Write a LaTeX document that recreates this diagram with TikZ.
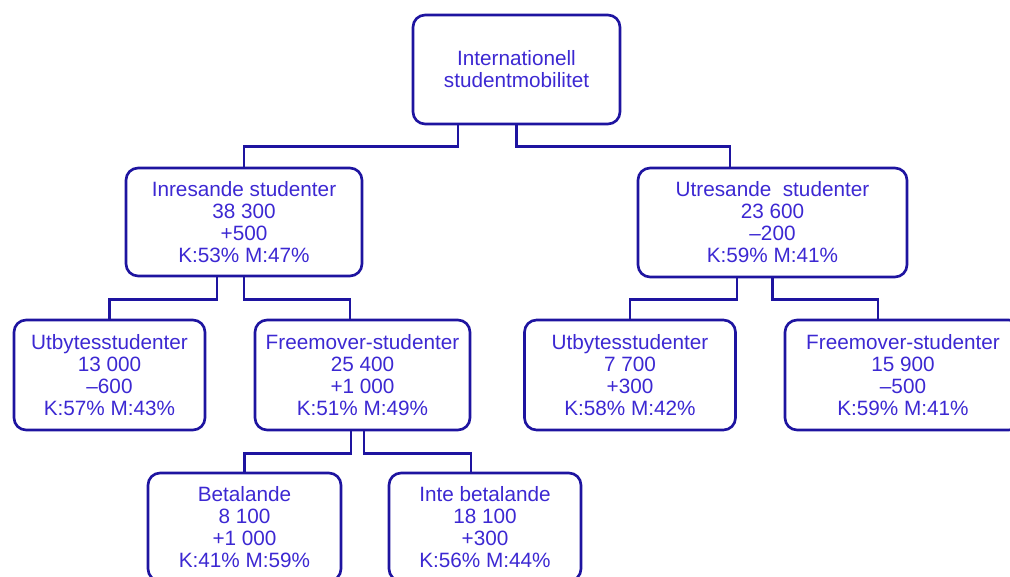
\documentclass[tikz,border=0pt]{standalone}
\usepackage{fontspec}
\setmainfont{Liberation Sans}
\usetikzlibrary{positioning,calc}
\definecolor{lineblue}{RGB}{30,20,160}
\definecolor{txtblue}{RGB}{60,40,210}
\tikzset{
  box/.style={draw=lineblue,line width=1.5pt,rounded corners=0.24cm,text=txtblue,
    align=center,inner sep=0pt,font=\fontsize{11.8}{12.5}\selectfont},
  link/.style={draw=lineblue,line width=1.5pt}
}
\begin{document}
\begin{tikzpicture}[x=0.02cm,y=-0.02cm]
\useasboundingbox (0,0) rectangle (1010,577);
\clip (0,0) rectangle (1010,577);

\node[box,minimum width=4.14cm,minimum height=2.18cm] (top) at (516.5,69.5) {Internationell\\studentmobilitet};
\node[box,minimum width=4.72cm,minimum height=2.16cm] (inr) at (244,222) {Inresande studenter\\38 300\\+500\\K:53\% M:47\%};
\node[box,minimum width=5.38cm,minimum height=2.18cm] (utr) at (772.5,222.5) {Utresande\ \ studenter\\23 600\\–200\\K:59\% M:41\%};
\node[box,minimum width=3.82cm,minimum height=2.2cm] (inutb) at (109.5,375) {Utbytesstudenter\\13 000\\–600\\K:57\% M:43\%};
\node[box,minimum width=4.3cm,minimum height=2.2cm] (infree) at (362.5,375) {Freemover-studenter\\25 400\\+1 000\\K:51\% M:49\%};
\node[box,minimum width=4.22cm,minimum height=2.2cm] (ututb) at (630,375) {Utbytesstudenter\\7 700\\+300\\K:58\% M:42\%};
\node[box,minimum width=4.72cm,minimum height=2.2cm] (utfree) at (903,375) {Freemover-studenter\\15 900\\–500\\K:59\% M:41\%};
\node[box,minimum width=3.86cm,minimum height=2.16cm] (bet) at (244.5,527) {Betalande\\8 100\\+1 000\\K:41\% M:59\%};
\node[box,minimum width=3.84cm,minimum height=2.16cm] (inte) at (485,527) {Inte betalande\\18 100\\+300\\K:56\% M:44\%};

\draw[link] ([xshift=-1.17cm]top.south) -- ++(0,-0.42cm) -| (inr.north);
\draw[link] (top.south) -- ++(0,-0.42cm) -| ([xshift=-0.85cm]utr.north);
\draw[link] ([xshift=-0.54cm]inr.south) -- ++(0,-0.44cm) -| (inutb.north);
\draw[link] (inr.south) -- ++(0,-0.44cm) -| ([xshift=-0.25cm]infree.north);
\draw[link] ([xshift=-0.71cm]utr.south) -- ++(0,-0.42cm) -| (ututb.north);
\draw[link] (utr.south) -- ++(0,-0.42cm) -| ([xshift=-0.5cm]utfree.north);
\draw[link] ([xshift=-0.23cm]infree.south) -- ++(0,-0.44cm) -| (bet.north);
\draw[link] ([xshift=0.03cm]infree.south) -- ++(0,-0.44cm) -| ([xshift=-0.28cm]inte.north);

\end{tikzpicture}
\end{document}
